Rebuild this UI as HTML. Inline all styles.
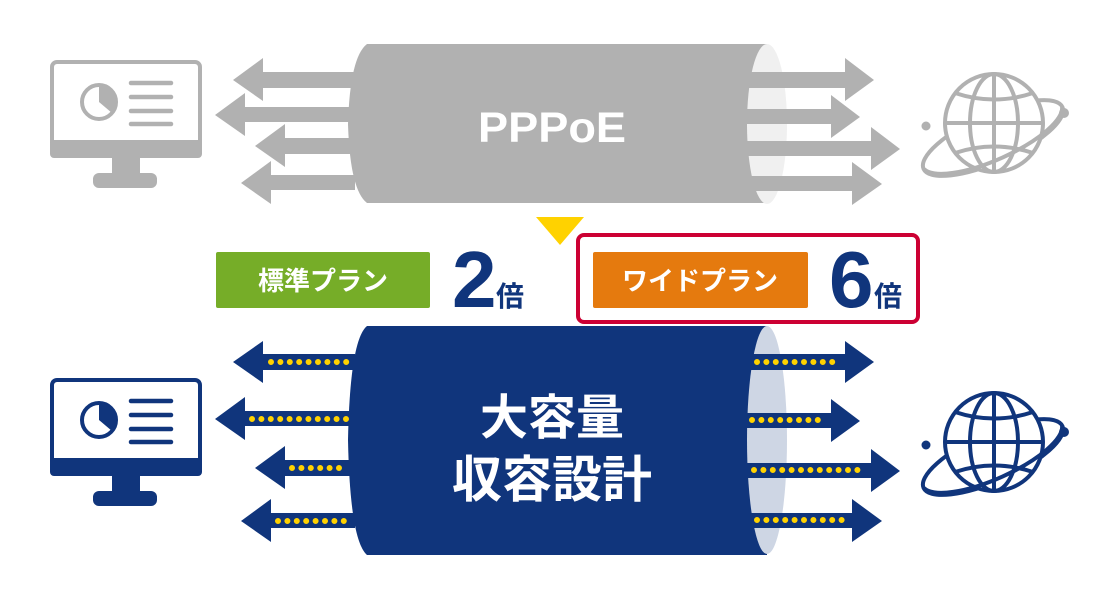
<!DOCTYPE html>
<html><head><meta charset="utf-8"><style>
html,body{margin:0;padding:0;background:#fff;}
svg{display:block;}
text{font-family:"Liberation Sans","Noto Sans CJK JP",sans-serif;font-weight:bold;}
</style></head><body>
<svg width="1120" height="600" viewBox="0 0 1120 600" xmlns="http://www.w3.org/2000/svg">
<defs>
<g id="mon">
  <rect x="52" y="62" width="148" height="94" rx="5" fill="none" stroke="currentColor" stroke-width="4"/>
  <rect x="50" y="140" width="152" height="18" rx="4" fill="currentColor"/>
  <rect x="112" y="156" width="28" height="20" fill="currentColor"/>
  <rect x="93" y="173" width="64" height="15" rx="6" fill="currentColor"/>
  <circle cx="99" cy="102" r="17" fill="none" stroke="currentColor" stroke-width="4"/>
  <path d="M99,102 L99,85 A17,17 0 0 1 112,113 Z" fill="currentColor"/>
  <g stroke="currentColor" stroke-width="4.5" stroke-linecap="round">
    <line x1="131" y1="83" x2="171" y2="83"/><line x1="131" y1="97" x2="171" y2="97"/>
    <line x1="131" y1="111" x2="171" y2="111"/><line x1="131" y1="124" x2="171" y2="124"/>
  </g>
</g>
<g id="globe" fill="none" stroke="currentColor" stroke-width="4">
  <ellipse cx="993" cy="138" rx="76" ry="24" transform="rotate(-24 993 138)"/>
  <circle cx="994" cy="123" r="49" fill="#fff"/>
  <ellipse cx="994" cy="123" rx="24" ry="49"/>
  <line x1="994" y1="74" x2="994" y2="172"/>
  <line x1="945" y1="123" x2="1043" y2="123"/>
  <path d="M955,93 Q994,106 1033,93"/>
  <path d="M955,153 Q994,140 1033,153"/>
  <path d="M1062,107 A76,24 -24 0 1 924,169"/>
  <circle cx="926" cy="126" r="4.5" fill="currentColor" stroke="none"/>
  <circle cx="1064" cy="113" r="5" fill="currentColor" stroke="none"/>
</g>
</defs>

<!-- top -->
<g color="#b1b1b1"><use href="#mon"/><use href="#globe"/></g>
<g fill="#b1b1b1">
  <path d="M367,44 L767,44 L767,203 L367,203 Q350,190 348,124 Q350,57 367,44 Z"/>
  <ellipse cx="767" cy="124" rx="20" ry="80" fill="#f0f0f0"/>
  <path d="M355,72 L263,72 L263,58 L233,80 L263,101 L263,88 L355,88 Z"/>
  <path d="M350,107 L245,107 L245,93 L215,115 L245,136 L245,122 L350,122 Z"/>
  <path d="M350,138 L285,138 L285,124 L255,146 L285,167 L285,154 L350,154 Z"/>
  <path d="M355,175 L271,175 L271,161 L241,183 L271,204 L271,190 L355,190 Z"/>
  <path d="M747,72 L845,72 L845,58 L874,80 L845,101 L845,88 L747,88 Z"/>
  <path d="M746,109 L831,109 L831,95 L860,117 L831,138 L831,124 L746,124 Z"/>
  <path d="M746,141 L871,141 L871,127 L900,149 L871,170 L871,156 L746,156 Z"/>
  <path d="M747,176 L852,176 L852,162 L882,184 L852,205 L852,191 L747,191 Z"/>
</g>
<text x="552" y="142" font-size="43" fill="#fff" text-anchor="middle" textLength="148" lengthAdjust="spacingAndGlyphs">PPPoE</text>

<!-- middle -->
<polygon points="536,217 584,217 560,245" fill="#ffd200"/>
<rect x="216" y="252" width="214" height="56" rx="2" fill="#76ad28"/>
<text x="323" y="290" font-size="26" fill="#fff" text-anchor="middle">標準プラン</text>
<text x="452" y="307" font-size="80" fill="#10357c">2</text>
<text x="496" y="306" font-size="28" fill="#10357c">倍</text>
<rect x="578" y="235" width="340" height="87" rx="6" fill="none" stroke="#cc0033" stroke-width="4"/>
<rect x="593" y="252" width="215" height="56" rx="2" fill="#e57a0e"/>
<text x="700" y="290" font-size="26" fill="#fff" text-anchor="middle">ワイドプラン</text>
<text x="829" y="307" font-size="80" fill="#10357c">6</text>
<text x="874" y="306" font-size="28" fill="#10357c">倍</text>

<!-- bottom -->
<g color="#10357c"><use href="#mon" transform="translate(0,318)"/><use href="#globe" transform="translate(0,319)"/></g>
<g fill="#10357c">
  <path d="M367,326 L767,326 L767,555 L367,555 Q350,540 348,440 Q350,340 367,326 Z"/>
  <ellipse cx="767" cy="440" rx="20" ry="114" fill="#ced6e4"/>
  <path d="M355,354 L263,354 L263,341 L233,362 L263,383 L263,370 L355,370 Z"/>
  <path d="M350,411 L245,411 L245,397 L215,419 L245,440 L245,426 L350,426 Z"/>
  <path d="M350,460 L285,460 L285,446 L255,468 L285,489 L285,476 L350,476 Z"/>
  <path d="M355,513 L271,513 L271,499 L241,521 L271,542 L271,528 L355,528 Z"/>
  <path d="M747,354 L845,354 L845,341 L874,362 L845,383 L845,370 L747,370 Z"/>
  <path d="M746,413 L831,413 L831,399 L860,421 L831,442 L831,428 L746,428 Z"/>
  <path d="M746,463 L871,463 L871,449 L900,471 L871,492 L871,478 L746,478 Z"/>
  <path d="M747,513 L852,513 L852,499 L882,521 L852,542 L852,528 L747,528 Z"/>
</g>
<g stroke="#ffd200" stroke-width="6" stroke-linecap="round" stroke-dasharray="0 9.4">
  <line x1="271" y1="362" x2="352" y2="362"/>
  <line x1="252" y1="419" x2="346" y2="419"/>
  <line x1="292" y1="468" x2="346" y2="468"/>
  <line x1="278" y1="521" x2="352" y2="521"/>
  <line x1="757" y1="362" x2="838" y2="362"/>
  <line x1="752" y1="420" x2="825" y2="420"/>
  <line x1="754" y1="470" x2="866" y2="470"/>
  <line x1="757" y1="520" x2="847" y2="520"/>
</g>
<text x="552" y="434" font-size="48" fill="#fff" text-anchor="middle">大容量</text>
<text x="552" y="497" font-size="50" fill="#fff" text-anchor="middle">収容設計</text>
</svg>
</body></html>
